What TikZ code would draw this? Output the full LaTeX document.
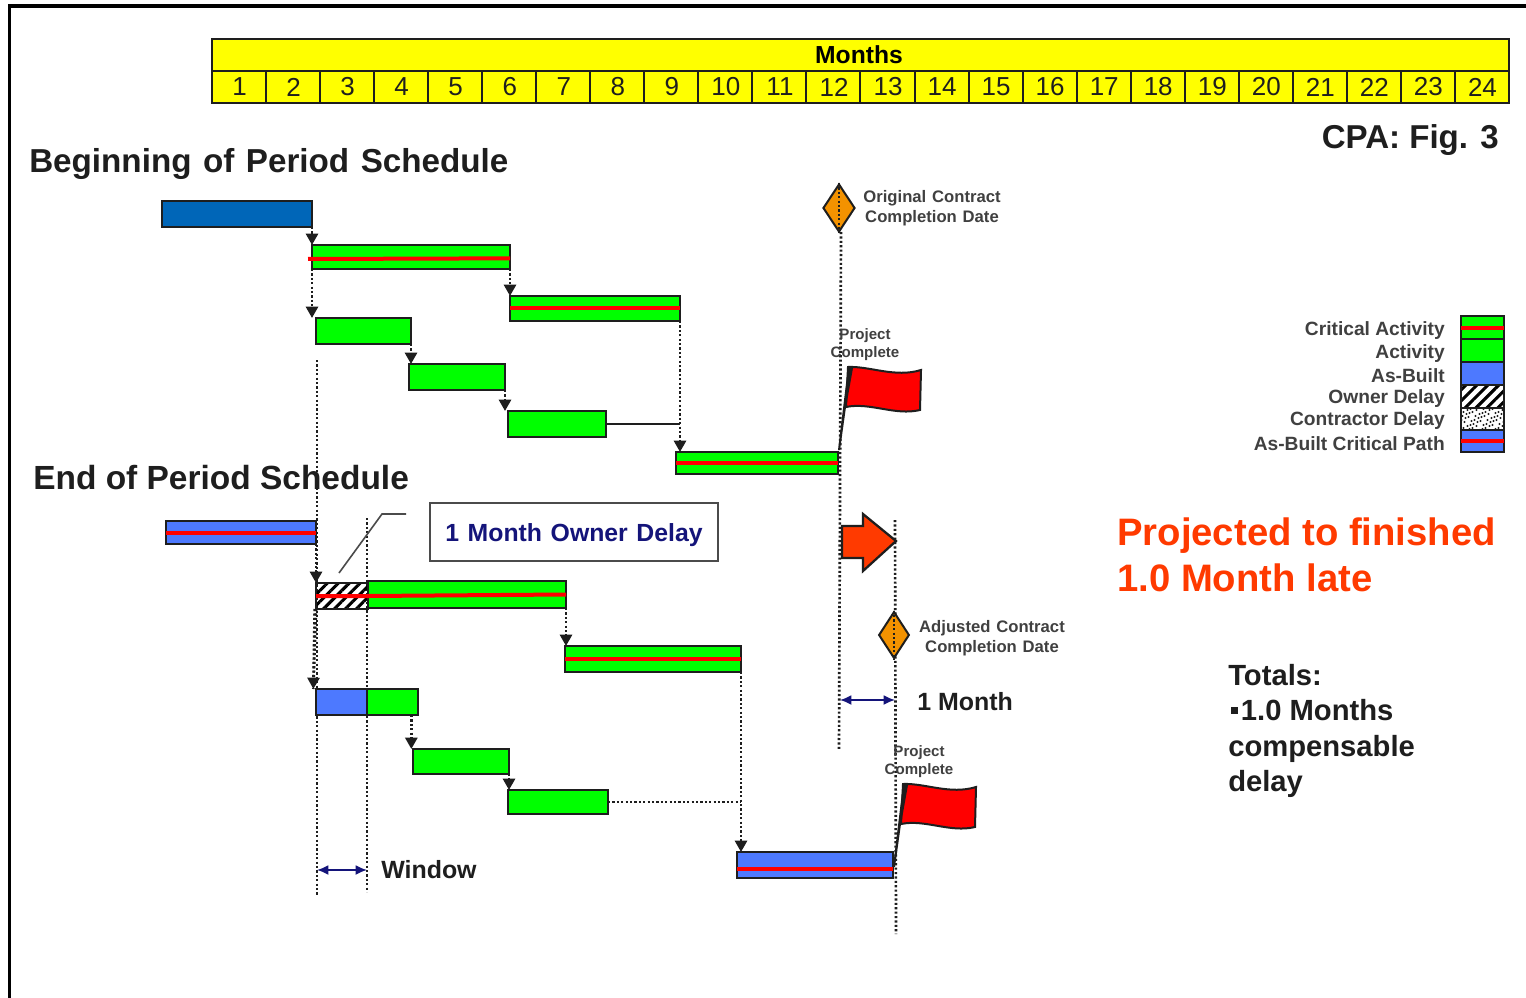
\documentclass[tikz,border=0pt]{standalone}
\usepackage{fontspec}
\setmainfont{Liberation Sans}
\newfontfamily\widesp[WordSpace=1.25]{Liberation Sans}
\usetikzlibrary{arrows.meta,patterns,patterns.meta,calc,shapes.geometric}
\definecolor{gr}{HTML}{00FF00}
\definecolor{yel}{HTML}{FFFF00}
\definecolor{blu}{HTML}{4D79FF}
\definecolor{dblu}{HTML}{0066B8}
\definecolor{ora}{HTML}{F39200}
\definecolor{redor}{HTML}{FF3A00}
\definecolor{navy2}{HTML}{14147A}
\definecolor{ink}{HTML}{1E1E1E}
\newcommand\tsz[2]{\fontsize{#1pt}{#2pt}\selectfont}
\tikzset{
  barbase/.style={draw=ink,line width=1.5pt,inner sep=0pt,outer sep=0pt,anchor=north west},
  grn/.style={barbase,fill=gr},
  blue bar/.style={barbase,fill=blu},
  hatchbar/.style={barbase,pattern={Lines[angle=45,distance=5.8pt,line width=2.3pt]}},
  contrbar/.style={barbase,fill=white},
  redline/.style={draw=red,line width=3pt},
  link/.style={draw=ink,line width=2pt,dash pattern=on 1.6pt off 1.7pt,-{Triangle[width=9pt,length=8.5pt,fill=ink]}},
  guide/.style={draw=ink,line width=2pt,dash pattern=on 1.6pt off 1.7pt},
  span/.style={draw=navy2,line width=1.4pt,{Latex[width=7.5pt,length=8.5pt]}-{Latex[width=7.5pt,length=8.5pt]}},
  cell/.style={draw=ink,line width=1.5pt,fill=yel,inner sep=0pt,outer sep=0pt,anchor=north west},
  headtxt/.style={font=\widesp\bfseries\tsz{24.9}{29},text=ink,inner sep=0pt},
  smalltxt/.style={font=\widesp\bfseries\tsz{12.5}{15},text=ink!85,inner sep=0pt,align=center},
  flagtxt/.style={font=\bfseries\tsz{11.3}{13.6},text=ink!85,inner sep=0pt,align=center},
  legtxt/.style={font=\bfseries\tsz{14.4}{17},text=ink!85,inner sep=0pt,anchor=east},
  midtxt/.style={font=\bfseries\tsz{18.7}{23},text=ink,inner sep=0pt},
  msdiamond/.style={diamond,aspect=0.62,draw=ink,line width=1.5pt,fill=ora,inner sep=0pt,minimum width=24pt,minimum height=36pt},
  flagpath/.style={draw=ink,line width=1.5pt,fill=red},
}
\newcommand\barnode[6]{\node[#6,minimum width={(#4-#2)*0.75pt},minimum height={(#5-#3)*0.75pt}] (#1) at (#2,#3) {};}
\begin{document}
\begin{tikzpicture}[x=0.75pt,y=-0.75pt]
\useasboundingbox (0,0) rectangle (1526,998);
\fill[white] (0,0) rectangle (1526,998);
% frame
\draw[black,line width=2.6pt] (9.5,998) -- (9.5,6) -- (1526,6);
% time scale
\barnode{hdr}{212}{39}{1509}{71}{cell}
\node[font=\bfseries\tsz{18.5}{22},text=black] (months) at (859,55) {Months};
\foreach \i in {1,...,24}{
  \pgfmathsetmacro\xa{212+(\i-1)*54.04}
  \pgfmathsetmacro\xb{212+\i*54.04}
  \barnode{c\i}{\xa}{71}{\xb}{103}{cell}
  \node[font=\tsz{19.5}{23},text=ink] (n\i) at ([xshift=0.4pt]c\i.center) {\i};
}
% titles
\node[headtxt,anchor=west] (t1) at (29,164) {Beginning of Period Schedule};
\node[font=\bfseries\tsz{25.1}{29},text=ink,inner sep=0pt,anchor=west] (t2) at (33,478) {End of Period Schedule};
\node[font=\bfseries\tsz{24.8}{29},text=ink,inner sep=0pt,anchor=east] (fig) at (1499,140) {CPA: Fig. 3};

% guides (under the bars)
\coordinate (w1a) at (317,360); \coordinate (w1b) at (317,895);
\coordinate (w2a) at (367,518); \coordinate (w2b) at (367,892);
\coordinate (p1a) at (841,232); \coordinate (p1b) at (839,750);
\coordinate (p2a) at (895,520); \coordinate (p2b) at (896,934);
\draw[guide] (w1a) -- (w1b);
\draw[guide] (w2a) -- (w2b);
\draw[guide] (p1a) -- (p1b);
\draw[guide] (p2a) -- (p2b);

% beginning schedule
\barnode{a}{162}{201}{312}{227}{barbase,fill=dblu}
\barnode{b}{312}{245}{510}{269}{grn}
\barnode{c}{510}{296}{680}{321}{grn}
\barnode{d}{316}{318}{411}{344}{grn}
\barnode{e}{409}{364}{505}{390}{grn}
\barnode{f}{508}{411}{606}{437}{grn}
\barnode{g}{676}{452}{838}{474}{grn}
\draw[redline] ([xshift=-3pt,yshift=-1.5pt]b.west) -- ([yshift=-1pt]b.east);
\draw[redline] (c.west) -- (c.east);
\draw[redline] (g.west) -- (g.east);
\draw[link] (a.south east) -- (b.north west);
\draw[link] (b.south west) -- (b.south west |- d.north);
\draw[link] (b.south east) -- (c.north west);
\draw[link] (c.south east) -- (c.south east |- g.north);
\draw[link] (d.south east) -- (d.south east |- e.north);
\draw[link] (e.south east) -- (e.south east |- f.north);
\draw[draw=ink,line width=1.2pt] (f.east) -- (f.east -| c.south east);

% end schedule
\barnode{h}{166}{521}{316}{544}{blue bar}
\barnode{i}{316}{583}{368}{609}{hatchbar}
\barnode{j}{368}{581}{566}{608}{grn}
\barnode{k}{565}{646}{741}{672}{grn}
\barnode{l}{316}{689}{367}{715}{blue bar}
\barnode{m}{367}{689}{418}{715}{grn}
\barnode{o1}{413}{749}{509}{774}{grn}
\barnode{o2}{508}{790}{608}{814}{grn}
\barnode{p}{737}{852}{893}{878}{blue bar}
\draw[redline] (h.west) -- (h.east);
\draw[redline] (i.west) -- (i.east) -- (j.east);
\draw[redline] (k.west) -- (k.east);
\draw[redline] ([yshift=-3pt]p.west) -- ([yshift=-3pt]p.east);
\draw[link] (h.south east) -- (i.north west);
\draw[guide] (i.south west) -- ([xshift=-2pt]l.north west);
\draw[link] ([xshift=-1pt]i.south west) -- ([xshift=-2pt]l.north west);
\draw[link] (j.south east) -- (j.south east |- k.north);
\draw[link] (k.south east) -- (k.south east |- p.north);
\draw[link] ([xshift=-5pt]m.south east) -- ([xshift=-5pt]m.south east |- o1.north);
\draw[link] (o1.south east) -- (o1.south east |- o2.north);
\draw[guide] (o2.east) -- (o2.east -| k.south east);

% callout
\node[draw=ink!80,line width=1.3pt,fill=white,minimum width=216pt,minimum height=43.5pt,inner sep=0pt,font=\widesp\bfseries\tsz{18.6}{22},text=navy2,text height=17.5pt,text depth=4pt] (box) at (574,532) {1 Month Owner Delay};
\coordinate (c1) at (339,573); \coordinate (c2) at (382,514); \coordinate (c3) at (406,514);
\draw[ink!80,line width=1.2pt] (c1) -- (c2) -- (c3);

% milestones
\node[msdiamond] (d1) at (839,208) {};
\draw[guide,line width=1.2pt] (d1.north) -- (d1.south);
\node[smalltxt] (d1t) at (932,208) {Original Contract\\Completion Date};
\node[msdiamond,minimum width=23pt,minimum height=35pt] (d2) at (894,635) {};
\draw[guide,line width=1.2pt] (d2.north) -- (d2.south);
\node[smalltxt] (d2t) at (992,638) {Adjusted Contract\\Completion Date};

% flags
\node[flagtxt] (pc1) at (865,345) {Project\\Complete};
\draw[flagpath] (848,367) .. controls (870,366) and (895,378) .. (921,370) -- (920,410) .. controls (895,416) and (870,402) .. (846,407) -- cycle;
\fill[ink] (848,367) -- (853,368) -- (846,407) -- (840,450) -- (838,450) -- cycle;
\node[flagtxt] (pc2) at (919,762) {Project\\Complete};
\draw[flagpath] (903,784) .. controls (925,783) and (950,795) .. (976,787) -- (975,827) .. controls (950,833) and (925,819) .. (901,824) -- cycle;
\fill[ink] (903,784) -- (908,785) -- (901,824) -- (895,867) -- (893,867) -- cycle;

% shift arrow
\draw[draw=ink,line width=1.7pt,fill=redor] (842,526) -- (863,526) -- (863,514) -- (896,541) -- (863,571) -- (863,558) -- (842,558) -- cycle;

% spans
\draw[span] (w1a |- 0,870) -- (w2a |- 0,870);
\node[midtxt,anchor=west] (win) at (381,870) {Window};
\draw[span] (840,700) -- (895,700);
\node[midtxt,anchor=west] (mon) at (917,702) {1 Month};

% right text
\node[font=\bfseries\tsz{28.7}{34.5},text=redor,inner sep=0pt,align=left,anchor=north west] (proj) at (1117,518) {Projected to finished\\1.0 Month late};
\node[font=\bfseries\tsz{21.9}{26.5},text=ink,inner sep=0pt,align=left,anchor=north west] (tot) at (1228,664) {Totals:\\\rlap{\hspace{2pt}\rule[5pt]{5.2pt}{5.2pt}}\hspace{9.5pt}1.0 Months\\compensable\\delay};

% legend
\barnode{l1}{1461}{316}{1504}{339}{grn}
\barnode{l2}{1461}{339}{1504}{362}{grn}
\barnode{l3}{1461}{362}{1504}{385}{blue bar}
\barnode{l4}{1461}{385}{1504}{408}{hatchbar}
\barnode{l5}{1461}{408}{1504}{430}{contrbar}
\begin{scope}
\clip (l5.north west) rectangle (l5.south east);
\foreach \px in {0,...,10}{\foreach \py in {0,...,5}{
  \pgfmathsetmacro\ox{mod(\px*7+\py*11,4)-1.5}
  \pgfmathsetmacro\oy{mod(\px*5+\py*3,3)-1}
  \fill[ink] ($(l5.north west)+(\px*4+\ox+1,\py*4+\oy+1)$) circle[radius=1.05];
}}
\end{scope}
\node[draw=ink,line width=1.5pt,inner sep=0pt,minimum width={43*0.75pt},minimum height={22*0.75pt}] (l5b) at (l5.center) {};
\barnode{l6}{1461}{430}{1504}{452}{blue bar}
\draw[redline] (l1.west) -- (l1.east);
\draw[redline] (l6.west) -- (l6.east);
\node[legtxt] at (1445,331) {Critical Activity};
\node[legtxt] at (1445,354) {Activity};
\node[legtxt] at (1445,376) {As-Built};
\node[legtxt] at (1445,399) {Owner Delay};
\node[legtxt] at (1445,421) {Contractor Delay};
\node[legtxt] at (1445,444) {As-Built Critical Path};
\end{tikzpicture}
\end{document}
